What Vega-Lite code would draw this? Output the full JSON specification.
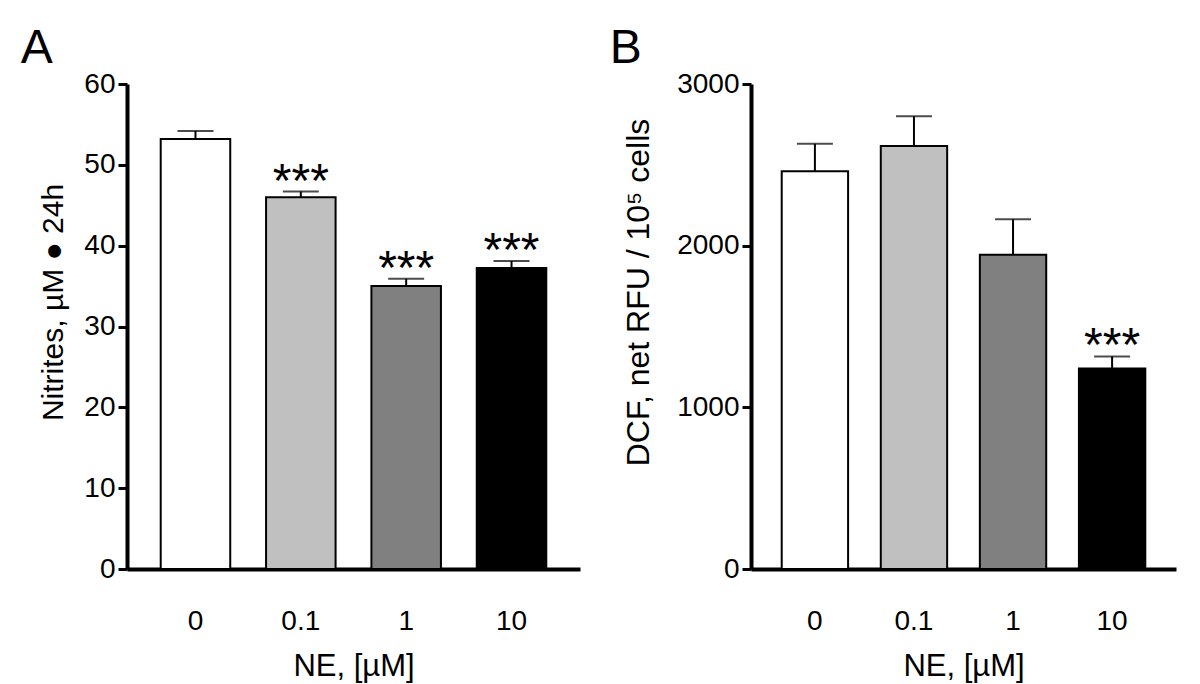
{
  "$schema": "https://vega.github.io/schema/vega-lite/v6.json",
  "background": "white",
  "padding": {"left": 20, "top": 25, "right": 10, "bottom": 5},
  "config": {
    "font": "Liberation Sans",
    "view": {"stroke": null},
    "axis": {"grid": false, "domainColor": "black", "domainWidth": 4, "tickColor": "black", "labelColor": "black", "titleColor": "black", "labelFont": "Liberation Sans", "titleFont": "Liberation Sans", "labelFontSize": 28, "titleFontSize": 31, "titleFontWeight": "normal"},
    "title": {"font": "Liberation Sans", "fontSize": 48, "fontWeight": "normal", "color": "black", "anchor": "start", "frame": "bounds", "offset": -3}
  },
  "spacing": 29,
  "datasets": {
    "nitrites": [
      {"NE": "0", "mean": 53.2, "upper": 54.2, "star": ""},
      {"NE": "0.1", "mean": 46.0, "upper": 46.7, "star": "***"},
      {"NE": "1", "mean": 35.0, "upper": 35.9, "star": "***"},
      {"NE": "10", "mean": 37.25, "upper": 38.1, "star": "***"}
    ],
    "dcf": [
      {"NE": "0", "mean": 2460, "upper": 2630, "star": ""},
      {"NE": "0.1", "mean": 2617, "upper": 2800, "star": ""},
      {"NE": "1", "mean": 1944, "upper": 2163, "star": ""},
      {"NE": "10", "mean": 1240, "upper": 1315, "star": "***"}
    ]
  },
  "hconcat": [
    {
      "title": {"text": "A", "dx": -18},
      "width": 453,
      "height": 485,
      "data": {"name": "nitrites"},
      "encoding": {
        "x": {"field": "NE", "type": "nominal", "sort": ["0", "0.1", "1", "10"],
              "scale": {"paddingInner": 0.34, "paddingOuter": 0.32},
              "axis": {"title": "NE, [µM]", "labelAngle": 0, "ticks": false, "labelPadding": 38, "titlePadding": 16}}
      },
      "layer": [
        {
          "mark": {"type": "bar", "stroke": "black", "strokeWidth": 2},
          "encoding": {
            "y": {"field": "mean", "type": "quantitative", "scale": {"domain": [0, 60]},
                  "axis": {"title": "Nitrites, µM ● 24h", "titleFontSize": 30, "titleY": 218, "values": [0, 10, 20, 30, 40, 50, 60], "tickSize": 9, "tickWidth": 3, "labelPadding": 3, "titlePadding": 15}},
            "fill": {"field": "NE", "type": "nominal", "sort": ["0", "0.1", "1", "10"], "scale": {"range": ["#ffffff", "#c0c0c0", "#808080", "#000000"]}, "legend": null}
          }
        },
        {
          "mark": {"type": "rule", "color": "black", "strokeWidth": 2},
          "encoding": {"y": {"field": "mean", "type": "quantitative"}, "y2": {"field": "upper"}}
        },
        {
          "mark": {"type": "tick", "color": "black", "thickness": 2, "size": 36},
          "encoding": {"y": {"field": "upper", "type": "quantitative"}}
        },
        {
          "mark": {"type": "text", "fontSize": 48, "baseline": "alphabetic", "dy": 5, "color": "black"},
          "encoding": {"y": {"field": "upper", "type": "quantitative"}, "text": {"field": "star"}}
        }
      ]
    },
    {
      "title": {"text": "B", "dx": -13},
      "width": 425,
      "height": 485,
      "data": {"name": "dcf"},
      "encoding": {
        "x": {"field": "NE", "type": "nominal", "sort": ["0", "0.1", "1", "10"],
              "scale": {"paddingInner": 0.33, "paddingOuter": 0.31},
              "axis": {"title": "NE, [µM]", "labelAngle": 0, "ticks": false, "labelPadding": 38, "titlePadding": 16}}
      },
      "layer": [
        {
          "mark": {"type": "bar", "stroke": "black", "strokeWidth": 2},
          "encoding": {
            "y": {"field": "mean", "type": "quantitative", "scale": {"domain": [0, 3000]},
                  "axis": {"title": "DCF, net RFU / 10⁵ cells", "titleFontSize": 32, "titleY": 208, "format": "d", "values": [0, 1000, 2000, 3000], "tickSize": 9, "tickWidth": 3, "labelPadding": 3, "titlePadding": 21}},
            "fill": {"field": "NE", "type": "nominal", "sort": ["0", "0.1", "1", "10"], "scale": {"range": ["#ffffff", "#c0c0c0", "#808080", "#000000"]}, "legend": null}
          }
        },
        {
          "mark": {"type": "rule", "color": "black", "strokeWidth": 2},
          "encoding": {"y": {"field": "mean", "type": "quantitative"}, "y2": {"field": "upper"}}
        },
        {
          "mark": {"type": "tick", "color": "black", "thickness": 2, "size": 36},
          "encoding": {"y": {"field": "upper", "type": "quantitative"}}
        },
        {
          "mark": {"type": "text", "fontSize": 48, "baseline": "alphabetic", "dy": 5, "color": "black"},
          "encoding": {"y": {"field": "upper", "type": "quantitative"}, "text": {"field": "star"}}
        }
      ]
    }
  ],
  "resolve": {"scale": {"fill": "independent"}}
}
